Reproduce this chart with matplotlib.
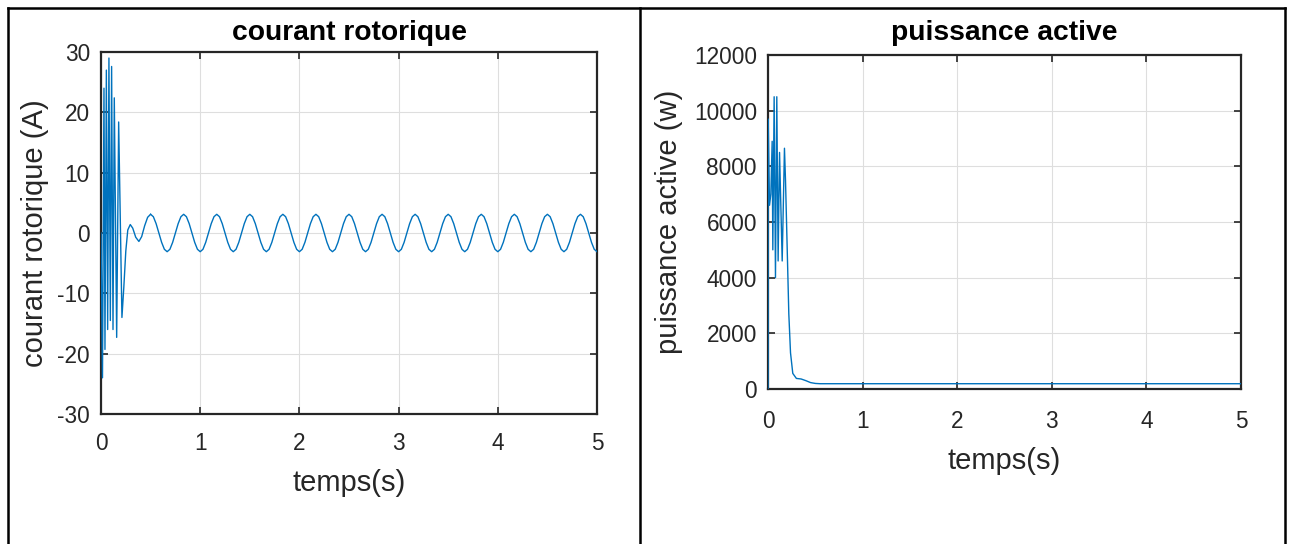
import numpy as np
import matplotlib
matplotlib.use("Agg")
import matplotlib.pyplot as plt
from matplotlib.lines import Line2D

plt.rcParams['font.family'] = ['Liberation Sans', 'DejaVu Sans']
plt.rcParams['axes.unicode_minus'] = False

# courant rotorique -- transient part
t_rot_trans = [0.0, 0.015, 0.03, 0.04, 0.054, 0.067, 0.08, 0.094, 0.107, 0.121,
               0.134, 0.158, 0.178, 0.211, 0.23, 0.25, 0.27, 0.295, 0.32, 0.35,
               0.382, 0.41, 0.44, 0.47]
i_rot_trans = [0.0, -24.0, 24.0, -19.3, 27.0, -16.0, 29.0, -14.5, 27.6, -16.0,
               22.4, -17.3, 18.4, -14.0, -9.0, -3.0, 0.5, 1.4, 0.8, -0.7,
               -1.4, -0.6, 1.2, 2.6]

# courant rotorique -- steady part, sampled every 1/36 s from 0.5 s to 5 s
i_rot_steady = [
    3.1, 2.7, 1.55, 0.0, -1.55, -2.7, -3.1, -2.7, -1.55, 0.0, 1.55, 2.7,
    3.1, 2.7, 1.55, 0.0, -1.55, -2.7, -3.1, -2.7, -1.55, 0.0, 1.55, 2.7,
    3.1, 2.7, 1.55, 0.0, -1.55, -2.7, -3.1, -2.7, -1.55, 0.0, 1.55, 2.7,
    3.1, 2.7, 1.55, 0.0, -1.55, -2.7, -3.1, -2.7, -1.55, 0.0, 1.55, 2.7,
    3.1, 2.7, 1.55, 0.0, -1.55, -2.7, -3.1, -2.7, -1.55, 0.0, 1.55, 2.7,
    3.1, 2.7, 1.55, 0.0, -1.55, -2.7, -3.1, -2.7, -1.55, 0.0, 1.55, 2.7,
    3.1, 2.7, 1.55, 0.0, -1.55, -2.7, -3.1, -2.7, -1.55, 0.0, 1.55, 2.7,
    3.1, 2.7, 1.55, 0.0, -1.55, -2.7, -3.1, -2.7, -1.55, 0.0, 1.55, 2.7,
    3.1, 2.7, 1.55, 0.0, -1.55, -2.7, -3.1, -2.7, -1.55, 0.0, 1.55, 2.7,
    3.1, 2.7, 1.55, 0.0, -1.55, -2.7, -3.1, -2.7, -1.55, 0.0, 1.55, 2.7,
    3.1, 2.7, 1.55, 0.0, -1.55, -2.7, -3.1, -2.7, -1.55, 0.0, 1.55, 2.7,
    3.1, 2.7, 1.55, 0.0, -1.55, -2.7, -3.1, -2.7, -1.55, 0.0, 1.55, 2.7,
    3.1, 2.7, 1.55, 0.0, -1.55, -2.7, -3.1, -2.7, -1.55, 0.0, 1.55, 2.7,
    3.1, 2.7, 1.55, 0.0, -1.55, -2.7, -3.1,
]
t_rot_steady = np.linspace(0.5, 5.0, len(i_rot_steady))

# puissance active
t_pow = [0.0, 0.002, 0.016, 0.03, 0.044, 0.051, 0.065, 0.079, 0.093, 0.107,
         0.122, 0.150, 0.174, 0.185, 0.22, 0.238, 0.262, 0.30, 0.35, 0.40,
         0.45, 0.5, 0.55, 5.0]
p_act = [0, 9700, 6600, 7000, 8900, 5000, 10500, 4000, 10500, 4600,
         8500, 4600, 8650, 7500, 2700, 1300, 560, 380, 360, 300,
         230, 200, 190, 190]

x_ticks = [0, 1, 2, 3, 4, 5]
y_ticks_rot = [-30, -20, -10, 0, 10, 20, 30]
y_ticks_pow = [0, 2000, 4000, 6000, 8000, 10000, 12000]

blue = '#0072BD'
dark = '#262626'

W, H = 1293, 544
fig = plt.figure(figsize=(W / 100, H / 100), dpi=100)
fig.patch.set_facecolor('white')


def box(px_left, px_top, px_right, px_bottom):
    return [px_left / W, 1 - px_bottom / H, (px_right - px_left) / W, (px_bottom - px_top) / H]


def matlab_style(ax, xpad):
    ax.grid(True, color='#dedede', linewidth=0.8)
    ax.set_axisbelow(True)
    for s in ax.spines.values():
        s.set_color(dark)
        s.set_linewidth(1.6)
    ax.tick_params(direction='in', length=5, width=1.2, colors=dark,
                   labelsize=16.3, top=True, right=True)
    ax.tick_params(axis='x', pad=xpad)
    ax.tick_params(axis='y', pad=8)


ax1 = fig.add_axes(box(101, 52, 597, 414))
ax1.plot(t_rot_trans + [t_rot_steady[0]], i_rot_trans + [i_rot_steady[0]],
         color=blue, lw=1.0, zorder=3)
ax1.plot(t_rot_steady, i_rot_steady, color=blue, lw=1.0, zorder=3)
ax1.set_xlim(0, 5)
ax1.set_ylim(-30, 30)
ax1.set_xticks(x_ticks)
ax1.set_yticks(y_ticks_rot)
matlab_style(ax1, 13)
ax1.set_title('courant rotorique', fontsize=20.3, fontweight='bold', pad=9)
ax1.set_xlabel('temps(s)', fontsize=21, color=dark, labelpad=10)
ax1.set_ylabel('courant rotorique (A)', fontsize=21, color=dark, labelpad=6)

ax2 = fig.add_axes(box(768, 55, 1241, 389))
ax2.plot(t_pow, p_act, color=blue, lw=1.0, zorder=3)
ax2.set_xlim(0, 5)
ax2.set_ylim(0, 12000)
ax2.set_xticks(x_ticks)
ax2.set_yticks(y_ticks_pow)
matlab_style(ax2, 15)
ax2.set_title('puissance active', fontsize=20.3, fontweight='bold', pad=11)
ax2.set_xlabel('temps(s)', fontsize=21, color=dark, labelpad=10)
ax2.set_ylabel('puissance active (w)', fontsize=21, color=dark, labelpad=8)

# table borders around the two panels
for xs, ys in [([8, 1285], [8, 8]), ([8, 8], [8, 544]),
               ([640, 640], [8, 544]), ([1285, 1285], [8, 544])]:
    fig.add_artist(Line2D([x / W for x in xs], [1 - y / H for y in ys],
                          color='black', lw=1.8, transform=fig.transFigure))

fig.savefig('out.png', dpi=100)
